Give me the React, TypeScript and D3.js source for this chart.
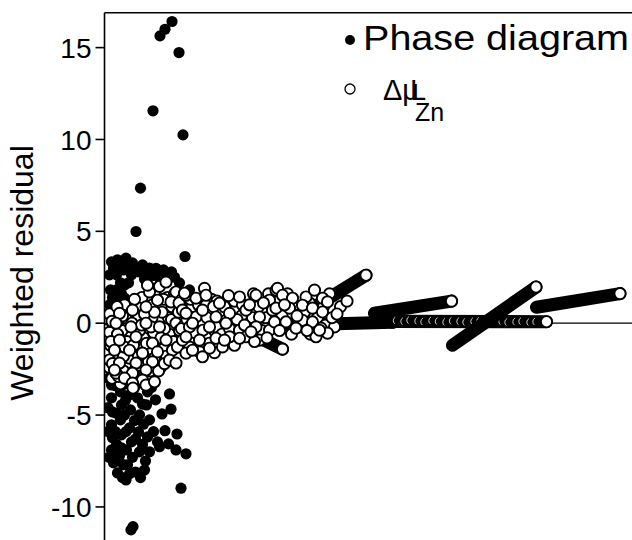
import React from "react";
import * as d3 from "d3";

// Weighted residuals — filled: phase diagram, open: Δμ(L, Zn)
const yTicks = [-10, -5, 0, 5, 10, 15];

const phaseOutliers: [number, number][] = [
  [13.5, 16.42], [12.1, 16.0], [11.1, 15.64], [14.9, 14.73], [9.7, 11.56],
  [15.7, 10.25], [7.2, 7.35], [6.3, 4.99], [16.1, 3.63],
];

const phaseUpper: [number, number][] = [
  [2.6, 3.45], [4.3, 3.54], [5.6, 3.28], [7.6, 3.17], [10.3, 2.99], [12.3, 2.36],
  [15.0, 2.19], [17.0, 1.81], [1.4, 3.34], [1.0, 2.63], [1.2, 1.81], [1.0, 1.0],
  [2.4, 2.63], [2.4, 1.81], [2.6, 1.1], [3.8, 2.9], [4.0, 2.08], [4.0, 1.38],
  [5.4, 2.63], [7.0, 2.79], [8.6, 2.63], [9.0, 3.0], [11.0, 2.47], [13.4, 2.79],
  [1.0, 0.45], [1.8, 3.0], [3.2, 3.3], [3.2, 2.2], [1.6, 1.4], [2.0, 0.5],
  [3.4, 1.6], [4.8, 3.0], [4.8, 2.2], [6.2, 3.0], [8.0, 2.4], [9.8, 2.6],
  [11.8, 2.9], [14.0, 2.5], [3.2, 0.9],
];

const phaseLower: [number, number][] = [
  [1.4, -3.36], [1.4, -4.06], [1.6, -4.83], [1.4, -5.53], [1.6, -6.24], [1.4, -6.9],
  [1.8, -7.6], [2.6, -8.15], [4.3, -8.53], [2.3, -7.44], [3.2, -3.74], [3.4, -4.45],
  [3.2, -5.26], [3.4, -6.08], [3.4, -6.79], [4.6, -7.71], [5.0, -3.9], [5.2, -4.72],
  [5.0, -5.7], [5.4, -6.46], [6.6, -4.06], [7.0, -4.99], [6.8, -5.92], [7.0, -7.0],
  [6.2, -8.1], [8.0, -7.99], [8.6, -3.74], [8.4, -4.45], [9.0, -5.26], [8.6, -6.19],
  [9.0, -7.0], [10.2, -4.17], [10.6, -6.46],
  [0.8, -3.0], [2.2, -3.4], [2.4, -4.9], [2.2, -5.9], [2.4, -6.6], [0.9, -7.3],
  [3.0, -7.2], [4.2, -3.3], [4.2, -4.2], [4.0, -5.0], [4.3, -5.9], [4.4, -6.9],
  [5.6, -7.3], [6.0, -3.5], [6.0, -5.3], [6.2, -6.3], [7.6, -4.4], [7.8, -5.5],
  [7.6, -6.6], [8.2, -7.5], [9.4, -3.5], [9.8, -5.9], [0.7, -4.6], [0.7, -5.9],
  [3.6, -8.4], [5.0, -8.2], [7.2, -8.4], [3.8, -7.7],
];

const phaseScatter: [number, number][] = [
  [13.0, -3.85], [11.5, -4.94], [13.3, -4.68], [12.1, -5.85], [14.5, -6.03],
  [12.8, -6.57], [11.0, -6.72], [14.3, -6.9], [16.3, -7.11], [15.3, -8.98],
  [5.7, -11.07], [5.3, -11.25],
];

const dmuCloud: [number, number][] = [
  [0.8, 0.2], [0.9, -0.9], [0.8, -1.6], [0.9, -2.4], [1.8, 0.6], [1.8, -0.3],
  [2.0, -2.0], [2.8, -1.4], [3.0, -0.3], [3.2, -3.3], [4.6, 0.6], [4.8, -0.6],
  [4.4, -2.3], [5.0, -1.9], [6.0, 0.1], [6.2, -1.0], [6.8, -2.8], [7.2, 0.9],
  [7.8, -0.8], [7.9, -2.0], [8.8, 0.4], [8.9, -1.4], [9.2, -2.6], [9.6, 1.0],
  [10.4, -0.9], [10.8, 0.2], [11.2, -2.4], [12.6, 1.4], [12.8, 0.3], [13.0, -0.6],
  [1.0, 0.5], [1.0, -0.5], [1.2, -1.2], [1.0, -2.0], [1.5, -3.0], [3.5, -0.4],
  [4.2, 0.3], [4.5, -1.0], [3.8, -1.8], [6.8, 0.4], [7.0, -0.4], [6.5, -1.3],
  [7.5, 1.4], [9.5, 0.3], [9.8, -0.5], [10.2, 1.8], [11.5, 0.6], [12.0, -0.3],
  [11.8, -1.4], [13.5, 0.9], [6.0, 1.3], [4.0, 1.0], [2.5, 0.9], [9.0, 1.7],
  [11.0, 2.0], [14.0, 1.6],
  [1.5, 0.1], [2.6, -0.6], [3.6, 0.4], [4.0, -1.3], [5.5, 0.0], [5.8, -1.2],
  [6.8, -1.8], [7.4, -0.1], [8.0, 0.5], [8.4, -1.1], [9.3, -0.2], [10.0, 0.6],
  [10.0, -1.9], [11.3, -0.8], [11.8, 1.3], [12.4, -1.8], [13.4, 0.2], [13.8, -1.0],
  [3.8, -2.6], [6.0, -2.6], [4.8, -3.1], [7.0, -2.3], [8.8, -2.1], [10.8, -2.6],
  [12.0, -2.2], [1.6, -2.2], [1.3, -1.0], [2.8, -2.9],
  [8.6, 2.07], [12.3, 2.24], [14.3, 1.7], [13.3, 1.16], [10.6, 1.25], [8.3, 0.89],
  [5.6, 0.71], [3.0, 0.54], [2.3, 0.0], [5.3, -0.2], [8.3, 0.0], [11.0, -0.2],
  [14.3, 0.0], [12.3, -0.92], [9.6, -1.09], [6.3, -0.74], [3.0, -0.92], [2.0, -1.47],
  [5.0, -1.47], [7.6, -1.63], [10.6, -1.56], [13.6, -1.47], [13.0, -2.01], [14.3, -2.17],
  [9.6, -2.1], [6.3, -2.17], [3.0, -2.17], [2.3, -2.72], [5.6, -2.72], [8.3, -2.55],
  [4.0, -2.99], [7.6, -3.1], [5.6, -3.26], [5.7, -3.53], [2.0, -2.55], [8.3, -3.37],
  [10.0, -3.19],
  [14.8, 0.6], [14.6, -1.3], [16.0, -0.1], [16.8, 0.9], [18.6, 0.5], [18.8, -1.2],
  [15.0, -0.4], [15.5, 1.3], [17.5, 0.9], [18.0, -0.9], [17.0, -1.3], [16.3, -1.63],
  [14.9, 1.1], [15.4, -0.3], [16.5, 0.2], [17.2, 1.3], [17.9, -0.5], [18.8, 1.0],
  [19.4, 0.1], [20.1, -1.3], [20.7, 0.6], [21.4, 1.3], [22.0, -0.4], [23.0, 0.6],
  [23.8, -0.1], [24.4, 1.2], [25.4, 0.1], [25.6, -0.9], [26.3, 0.8], [27.4, 0.4],
  [16.3, 1.52], [19.6, 1.36], [20.3, 0.98], [24.0, 0.89], [21.6, 0.54], [18.3, 0.34],
  [15.6, 0.71], [17.0, -0.2], [19.7, -0.38], [22.3, -0.2], [24.3, 0.16], [21.0, -1.09],
  [19.0, -1.56], [23.0, -1.29], [15.6, -0.92], [20.5, 0.3], [22.5, 1.2], [23.5, -0.6],
  [25.0, -0.3], [26.0, 1.2], [20.0, 1.9], [21.8, 0.9], [22.0, -1.6], [24.8, 1.5],
  [26.0, -1.2], [26.5, 0.2],
  [27.6, 1.0], [28.6, -0.4], [29.6, 0.3], [29.8, 1.6], [30.8, 0.9], [31.5, -0.4],
  [32.2, 0.3], [32.8, 1.6], [33.8, -0.2], [34.8, 1.2], [35.5, 0.4], [36.6, 1.6],
  [37.4, -0.6], [38.0, 1.0], [39.0, -0.2], [40.0, 0.6], [41.0, 1.1], [41.2, -0.6],
  [42.6, 0.3], [43.8, 0.9], [44.2, -0.1], [45.0, 1.6], [46.0, -0.2], [47.2, 0.9],
  [16.0, 1.63], [18.3, 1.36], [20.3, 1.52], [23.0, 1.09], [27.0, 1.43], [30.3, 1.52],
  [33.0, 1.25], [34.3, 1.79], [16.3, 0.54], [19.6, 0.71], [22.3, 0.34], [25.0, 0.54],
  [28.3, 0.71], [31.0, 0.34], [33.6, 0.71], [17.6, 0.0], [21.0, -0.2], [24.3, 0.0],
  [27.0, -0.38], [30.3, -0.2], [33.0, -0.38], [16.3, -0.74], [19.0, -0.92], [22.3, -0.82],
  [25.0, -0.74], [28.3, -0.74], [31.0, -0.92], [17.6, -1.47], [21.0, -1.36], [23.6, -1.29],
  [19.6, -1.83], [28.0, -0.1], [29.0, 1.0], [30.0, -1.0], [31.8, 1.1], [32.5, -0.8],
  [34.6, 1.9], [35.6, 1.52], [37.6, 1.36], [40.3, 1.43], [43.6, 1.36], [44.6, 1.16],
  [34.3, 0.82], [37.0, 0.82], [39.6, 0.98], [41.6, 0.82], [43.6, 0.61], [39.6, 0.16],
  [41.6, 0.07], [43.3, -0.27], [42.3, -0.74], [44.6, -0.54], [38.3, -0.27], [36.3, 0.07],
  [34.0, 0.07], [43.0, -0.38], [29.3, -0.47], [27.0, -0.82], [24.0, -0.92], [35.0, -0.4],
  [36.0, 1.0], [38.5, 0.4], [40.5, -0.4], [42.0, 1.8], [45.5, 0.3], [48.5, 1.2],
  [46.5, 0.5],
];

// Δμ points along zero that peek out of the dense run as thin crescents
const dmuChain: [number, number][] = [
  [58.6, 0.14], [60.1, 0.1], [61.3, 0.16], [62.9, 0.12], [64.1, 0.08], [65.7, 0.14],
  [67.0, 0.1], [68.5, 0.06], [69.8, 0.12], [71.3, 0.1], [72.5, 0.06], [74.1, 0.1],
  [75.3, 0.12], [76.9, 0.05], [78.1, 0.08], [79.7, 0.1], [80.9, 0.05], [82.5, 0.08],
  [83.7, 0.1], [85.3, 0.05], [86.5, 0.08],
];

// densely packed Δμ runs that print as solid bars: [x0, y0, x1, y1]
const dmuRunsBelow: [number, number, number, number][] = [
  [37.0, -0.1, 57.6, 0.05],
  [42.6, 0.98, 52.3, 2.61],
  [27.0, -0.27, 35.6, -1.41],
];
const dmuRunZero: [number, number, number, number][] = [[57.6, 0.1, 88.4, 0.08]];
const dmuRunsAbove: [number, number, number, number][] = [
  [54.0, 0.54, 69.4, 1.2],
  [69.6, -1.2, 86.3, 1.97],
  [86.4, 0.87, 103.1, 1.61],
];

const W = 632;
const H = 540;
const FONT = "'Liberation Sans', Arial, Helvetica, sans-serif";
const R = 5.6;
const SW = 1.9;

export default function App() {
  const x = d3.scaleLinear().domain([0, 105.4]).range([104.5, 631.5]);
  const y = d3.scaleLinear().domain([-11.8, 16.9]).range([540, 12.7]);
  const line = d3.line<[number, number]>().x((d) => x(d[0])).y((d) => y(d[1]));

  const filled = [...phaseUpper, ...phaseLower, ...phaseScatter, ...phaseOutliers];

  const runs = (list: [number, number, number, number][], key: string) =>
    list.map((r, i) => (
      <g key={key + i}>
        <path
          d={line([[r[0], r[1]], [r[2], r[3]]]) ?? ""}
          stroke="#000"
          strokeWidth={2 * R + SW}
          strokeLinecap="round"
          fill="none"
        />
        <circle cx={x(r[2])} cy={y(r[3])} r={R} fill="#fff" stroke="#000" strokeWidth={SW} />
      </g>
    ));

  const openDots = (list: [number, number][], key: string) =>
    list.map((d, i) => (
      <circle key={key + i} cx={x(d[0])} cy={y(d[1])} r={R} fill="#fff" stroke="#000" strokeWidth={SW} />
    ));

  // thin white crescent on the left of a ring
  const rc = R - 1.4;
  const circ = 2 * Math.PI * rc;

  return (
    <>
      <style>{"body{margin:0}"}</style>
      <svg width={W} height={H} style={{ display: "block", background: "#fff" }} fontFamily={FONT}>
        <defs>
          <clipPath id="plot">
            <rect x={104.5} y={12.7} width={W - 104.5} height={H - 12.7} />
          </clipPath>
        </defs>

        {/* zero line */}
        <line x1={x(0)} x2={W} y1={y(0)} y2={y(0)} stroke="#000" strokeWidth={1.3} />

        <g clipPath="url(#plot)">
          {filled.map((d, i) => (
            <circle key={"f" + i} cx={x(d[0])} cy={y(d[1])} r={R} fill="#000" />
          ))}
          {runs(dmuRunsBelow, "rb")}
          {openDots(dmuCloud, "c")}
          {runs(dmuRunZero, "rz")}
          {dmuChain.map((d, i) => (
            <circle
              key={"ch" + i}
              cx={x(d[0])}
              cy={y(d[1])}
              r={rc}
              fill="none"
              stroke="#fff"
              strokeWidth={0.8}
              strokeDasharray={`${circ * 0.3} ${circ * 0.7}`}
              strokeDashoffset={-circ * 0.35}
            />
          ))}
          {runs(dmuRunsAbove, "ra")}
        </g>

        {/* frame */}
        <line x1={x(0)} x2={x(0)} y1={y(16.9)} y2={H} stroke="#000" strokeWidth={1.6} />
        <line x1={x(0)} x2={W} y1={y(16.9)} y2={y(16.9)} stroke="#000" strokeWidth={1.6} />

        {/* y axis */}
        {yTicks.map((t) => (
          <g key={t} transform={`translate(0,${y(t)})`}>
            <line x1={x(0) - 9} x2={x(0)} stroke="#000" strokeWidth={1.6} />
            <text x={x(0) - 13} dy="0.36em" textAnchor="end" fontSize={28}>
              {String(t)}
            </text>
          </g>
        ))}
        <text transform="translate(33,273) rotate(-90)" textAnchor="middle" fontSize={32}>
          Weighted residual
        </text>

        {/* legend */}
        <circle cx={350} cy={40} r={5} fill="#000" />
        <text x={363} y={50} fontSize={35} textLength={266} lengthAdjust="spacingAndGlyphs">
          Phase diagram
        </text>
        <circle cx={350} cy={89} r={5} fill="#fff" stroke="#000" strokeWidth={1.3} />
        <text fontSize={29}>
          <tspan x={383} y={100}>Δμ</tspan>
          <tspan x={410} y={100}>L</tspan>
          <tspan x={415} y={121} fontSize={25}>Zn</tspan>
        </text>
      </svg>
    </>
  );
}
